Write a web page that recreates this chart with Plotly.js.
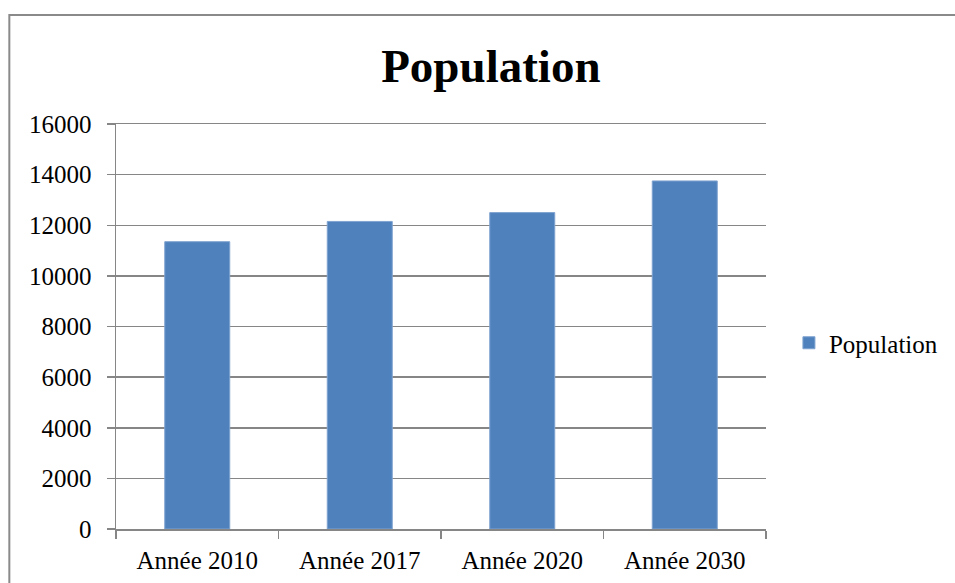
<!DOCTYPE html>
<html>
<head>
<meta charset="utf-8">
<script src="https://cdn.plot.ly/plotly-3.0.1.min.js"></script>
<style>html,body{margin:0;padding:0;background:#fff;}#chart{width:955px;height:583px;}</style>
</head>
<body>
<div id="chart"></div>
<script>
const categories = ["Année 2010", "Année 2017", "Année 2020", "Année 2030"];
const population = [11350, 12150, 12500, 13750];
const seriesName = "Population";
const yTicks = [0, 2000, 4000, 6000, 8000, 10000, 12000, 14000, 16000];

const font = "Liberation Serif, Times New Roman, serif";
const L = 116, R = 768, T = 124, B = 529;
const pw = R - L, ph = B - T;
const px = v => (v - L) / pw;
const py = v => (B - v) / ph;

const trace = {
  type: "bar",
  x: categories,
  y: population,
  name: seriesName,
  marker: {color: "#4F81BD", line: {color: "#7FA3D0", width: 1}},
  showlegend: true
};

const layout = {
  width: 955, height: 583,
  margin: {l: L, r: 955 - R, t: T, b: 583 - B},
  paper_bgcolor: "#fff", plot_bgcolor: "#fff",
  font: {family: font, size: 25, color: "#000"},
  title: {text: "<b>Population</b>", font: {family: font, size: 47, color: "#000"},
          x: 0.514, xanchor: "center", y: 0.888, yanchor: "middle"},
  bargap: 0.6,
  xaxis: {
    type: "category", showgrid: false, showline: true, mirror: true,
    linecolor: "#868686", linewidth: 1.5,
    ticks: "outside", tickson: "boundaries", ticklen: 8, tickcolor: "#868686", tickwidth: 1.5,
    ticklabelstandoff: 8,
    tickfont: {family: font, size: 25, color: "#000"}, fixedrange: true
  },
  yaxis: {
    range: [0, 16000], tickvals: yTicks, ticktext: yTicks.map(String),
    showgrid: true, gridcolor: "#868686", gridwidth: 1.5,
    showline: true, linecolor: "#868686", linewidth: 1.5,
    ticks: "outside", ticklen: 8, tickcolor: "#868686", tickwidth: 1.5, zeroline: false,
    ticklabelstandoff: 10,
    tickfont: {family: font, size: 25, color: "#000"}, fixedrange: true
  },
  legend: {x: px(791), y: py(343), xanchor: "left", yanchor: "middle",
           font: {family: font, size: 25, color: "#000"}, itemwidth: 30},
  shapes: [{
    type: "rect", xref: "paper", yref: "paper",
    x0: px(9), x1: px(975), y0: py(600), y1: py(15),
    line: {color: "#8a8a8a", width: 2}, fillcolor: "rgba(0,0,0,0)"
  }]
};

Plotly.newPlot("chart", [trace], layout, {displayModeBar: false, staticPlot: true});
</script>
</body>
</html>
